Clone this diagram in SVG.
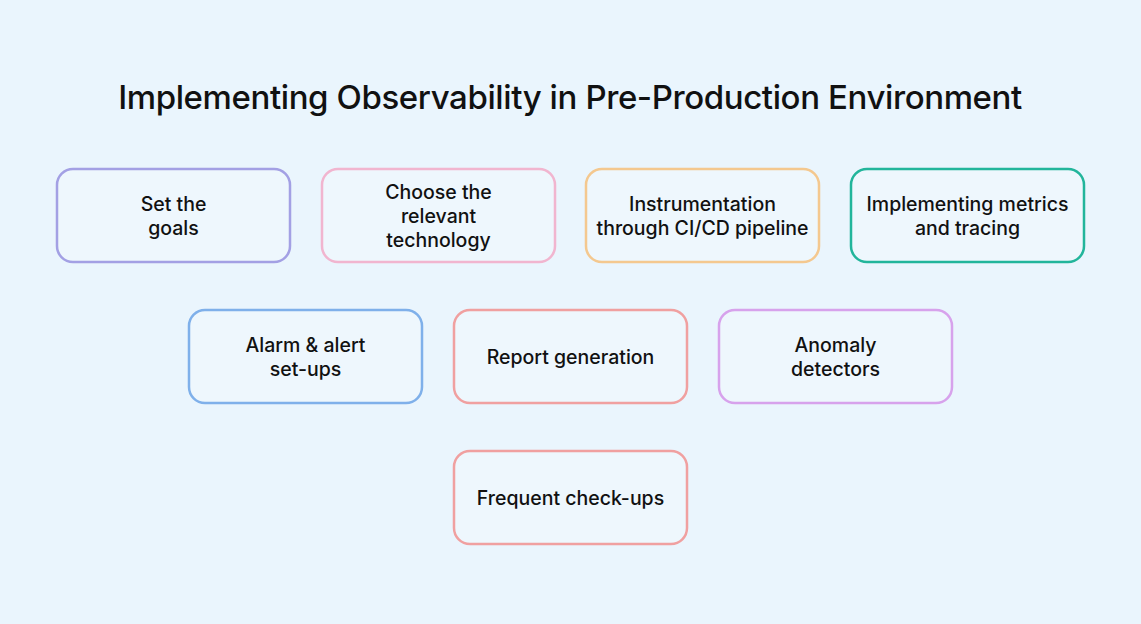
<svg xmlns="http://www.w3.org/2000/svg" width="1141" height="624" viewBox="0 0 1141 624">
<style>
.b{fill:#eef7fd;stroke-width:2.5}
.t{font-family:Inter,"Liberation Sans",sans-serif;font-size:19.5px;font-weight:500;fill:#111;text-anchor:middle}
</style>
<rect width="1141" height="624" fill="#eaf5fd"/>
<text x="570" y="109" font-family="Inter,'Liberation Sans',sans-serif" font-size="33" font-weight="500" letter-spacing="-0.4" fill="#111" text-anchor="middle">Implementing Observability in Pre-Production Environment</text>
<g id="connectors"/>
<g id="n1"><rect class="b" x="57" y="169" width="233" height="93" rx="16" stroke="#a3a0e4"/><text class="t" x="173.5" y="211">Set the</text><text class="t" x="173.5" y="235">goals</text></g>
<g id="n2"><rect class="b" x="322" y="169" width="233" height="93" rx="16" stroke="#f1b5cf"/><text class="t" x="438.5" y="199">Choose the</text><text class="t" x="438.5" y="223">relevant</text><text class="t" x="438.5" y="247">technology</text></g>
<g id="n3"><rect class="b" x="586" y="169" width="233" height="93" rx="16" stroke="#f4c88f"/><text class="t" x="702.5" y="211">Instrumentation</text><text class="t" x="702.5" y="235">through CI/CD pipeline</text></g>
<g id="n4"><rect class="b" x="851" y="169" width="233" height="93" rx="16" stroke="#22b59b"/><text class="t" x="967.5" y="211">Implementing metrics</text><text class="t" x="967.5" y="235">and tracing</text></g>
<g id="n5"><rect class="b" x="189" y="310" width="233" height="93" rx="16" stroke="#7fb0ea"/><text class="t" x="305.5" y="352">Alarm &amp; alert</text><text class="t" x="305.5" y="376">set-ups</text></g>
<g id="n6"><rect class="b" x="454" y="310" width="233" height="93" rx="16" stroke="#f0a0a0"/><text class="t" x="570.5" y="364">Report generation</text></g>
<g id="n7"><rect class="b" x="719" y="310" width="233" height="93" rx="16" stroke="#d7a2ec"/><text class="t" x="835.5" y="352">Anomaly</text><text class="t" x="835.5" y="376">detectors</text></g>
<g id="n8"><rect class="b" x="454" y="451" width="233" height="93" rx="16" stroke="#f0a0a0"/><text class="t" x="570.5" y="505">Frequent check-ups</text></g>
</svg>
